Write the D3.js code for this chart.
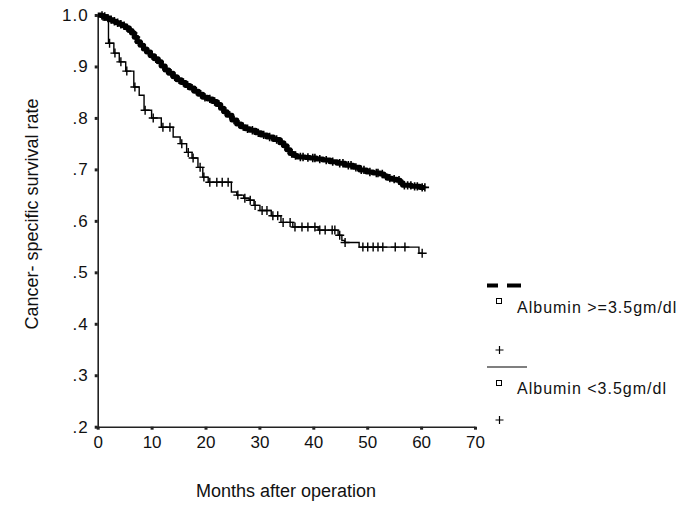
<!DOCTYPE html>
<html>
<head>
<meta charset="utf-8">
<script src="https://cdn.jsdelivr.net/npm/d3@7"></script>
<style>
  html, body { margin: 0; padding: 0; background: #fff; }
  svg { display: block; }
  text { font-family: "Liberation Sans", Arial, Helvetica, sans-serif; fill: #111; }
</style>
</head>
<body>
<svg id="chart" width="685" height="517"></svg>
<script>
// ---------- DATA ----------
const xTicks = [0, 10, 20, 30, 40, 50, 60, 70];
const yTicks = [1.0, 0.9, 0.8, 0.7, 0.6, 0.5, 0.4, 0.3, 0.2];
const yTickLabels = ["1.0", ".9", ".8", ".7", ".6", ".5", ".4", ".3", ".2"];
const seriesNames = ["Albumin >=3.5gm/dl", "Albumin <3.5gm/dl"];

// Albumin >= 3.5 : event times and survival after the event
const highTimes = [0.5,1.0,1.6,2.2,2.8,3.4,4.0,4.6,5.2,5.8,6.3,6.8,7.3,7.9,8.5,9.1,9.8,10.5,11.2,11.8,
  12.5,13.2,14.0,14.7,15.5,16.3,17.1,17.9,18.7,19.5,20.4,21.3,22.1,22.8,23.4,24.0,24.9,25.8,26.6,27.4,
  28.2,29.3,30.3,31.4,32.6,33.8,34.5,35.1,35.7,36.4,37.0,38.5,39.4,40.6,41.8,43.1,44.4,45.9,47.4,48.6,
  49.9,51.1,52.4,53.1,53.7,54.6,55.5,56.1,56.6,58.2,59.8];
const highSurv = [0.999,0.997,0.994,0.991,0.988,0.985,0.982,0.979,0.975,0.970,0.965,0.957,0.948,0.941,0.934,0.928,0.921,0.915,0.909,0.901,
  0.893,0.887,0.880,0.874,0.869,0.863,0.858,0.852,0.846,0.840,0.837,0.832,0.826,0.819,0.812,0.805,0.796,0.788,0.783,0.779,
  0.776,0.771,0.767,0.763,0.758,0.752,0.746,0.738,0.731,0.727,0.724,0.723,0.722,0.720,0.718,0.715,0.712,0.708,0.704,0.699,
  0.695,0.693,0.691,0.687,0.683,0.681,0.679,0.674,0.669,0.667,0.665];
const highCensored = [0.8,1.3,1.9,2.5,3.1,3.7,4.3,4.9,5.5,6.1,6.6,7.1,7.6,8.2,8.8,9.4,10.1,10.8,11.5,12.1,
  12.8,13.6,14.3,15.1,15.9,16.7,17.5,18.3,19.1,19.9,20.8,21.7,22.5,23.1,23.7,24.5,25.3,26.2,27.0,27.8,
  28.7,29.8,30.8,31.9,33.2,34.2,34.8,35.4,36.0,36.7,37.6,38.1,39.0,39.9,40.3,41.2,42.4,43.6,44.9,45.5,
  46.5,47.0,47.9,48.9,49.4,50.5,51.7,52.0,52.8,54.2,55.0,55.9,56.9,57.5,58.1,58.8,59.3,60.2,60.7];
const highEnd = 60.7;

// Albumin < 3.5 : event times and survival after the event
const lowTimes = [1.0,2.0,3.0,4.0,5.2,6.7,7.7,8.6,10.0,11.8,14.0,15.3,16.5,17.5,18.6,19.5,20.5,24.8,25.8,27.1,
  28.1,29.0,30.1,32.2,34.0,36.2,40.9,44.6,45.3,45.8,48.5,59.6];
const lowSurv = [0.990,0.945,0.926,0.909,0.891,0.860,0.844,0.815,0.800,0.782,0.763,0.750,0.733,0.722,0.704,0.685,0.675,0.656,0.650,0.644,
  0.640,0.630,0.620,0.610,0.597,0.588,0.582,0.572,0.562,0.558,0.549,0.537];
const lowCensored = [2.2,3.2,4.3,5.4,6.9,8.8,10.3,12.1,13.4,15.6,16.8,17.7,19.0,19.7,20.8,22.1,23.1,24.2,26.0,27.3,
  28.3,29.2,30.5,31.4,32.5,33.4,34.4,35.7,36.6,37.9,39.0,40.3,41.2,42.2,43.5,44.0,44.9,45.9,49.2,50.1,
  51.1,52.0,52.9,55.2,57.0,60.2];
const lowEnd = 60.2;

// ---------- DRAW ----------
const svg = d3.select("#chart");
const x = d3.scaleLinear().domain([0, 70]).range([97.7, 475]);
const y = d3.scaleLinear().domain([0.2, 1.0]).range([426.7, 15]);

function stepPoints(times, surv, end) {
  const pts = [[0, 1.0]];
  times.forEach((t, i) => pts.push([t, surv[i]]));
  pts.push([end, surv[surv.length - 1]]);
  return pts;
}
function survAt(times, surv, t) {
  let s = 1.0;
  times.forEach((tt, i) => { if (tt <= t) s = surv[i]; });
  return s;
}
const line = d3.line().x(d => x(d[0])).y(d => y(d[1])).curve(d3.curveStepAfter);

// axes
const xAxis = d3.axisBottom(x).tickValues(xTicks).tickFormat(d3.format("d")).tickSize(3).tickSizeOuter(0).tickPadding(6);
const gx = svg.append("g").attr("transform", `translate(0,${y(0.2)})`).call(xAxis);
gx.select(".domain").attr("stroke", "#222").attr("stroke-width", 1.6);
gx.selectAll(".tick line").attr("stroke", "#222").attr("stroke-width", 3);
gx.selectAll(".tick text").attr("font-size", 17).attr("fill", "#111")
  .style("font-family", "'Liberation Sans', Arial, sans-serif");

const yAxis = d3.axisLeft(y).tickValues(yTicks).tickFormat((d, i) => yTickLabels[i]).tickSize(3).tickSizeOuter(0).tickPadding(6);
const gy = svg.append("g").attr("transform", `translate(${x(0)},0)`).call(yAxis);
gy.select(".domain").attr("stroke", "#222").attr("stroke-width", 1.6);
gy.selectAll(".tick line").attr("stroke", "#222").attr("stroke-width", 3);
gy.selectAll(".tick text").attr("font-size", 17).attr("fill", "#111")
  .attr("letter-spacing", 1)
  .style("font-family", "'Liberation Sans', Arial, sans-serif");

// axis titles
svg.append("text").attr("x", 286).attr("y", 497).attr("text-anchor", "middle")
  .attr("font-size", 18).text("Months after operation");
svg.append("text").attr("transform", "translate(38,214) rotate(-90)").attr("text-anchor", "middle")
  .attr("font-size", 18).text("Cancer- specific survival rate");

// censor mark helper
function plus(g, cx, cy, r, w) {
  g.append("path").attr("d", `M${cx - r},${cy}H${cx + r}M${cx},${cy - r}V${cy + r}`)
    .attr("stroke", "#000").attr("stroke-width", w).attr("fill", "none");
}

// low albumin curve
const gLow = svg.append("g");
gLow.append("path").datum(stepPoints(lowTimes, lowSurv, lowEnd)).attr("d", line)
  .attr("fill", "none").attr("stroke", "#000").attr("stroke-width", 1.4);
lowCensored.forEach(t => plus(gLow, x(t), y(survAt(lowTimes, lowSurv, t)), 4.5, 1.4));

// high albumin curve
const gHigh = svg.append("g");
gHigh.append("path").datum(stepPoints(highTimes, highSurv, highEnd)).attr("d", line)
  .attr("fill", "none").attr("stroke", "#000").attr("stroke-width", 5).attr("stroke-linejoin", "round");
highCensored.forEach(t => plus(gHigh, x(t), y(survAt(highTimes, highSurv, t)), 4.2, 1.6));

// legend
const lg = svg.append("g");
lg.append("rect").attr("x", 487).attr("y", 283.5).attr("width", 11).attr("height", 4).attr("fill", "#000");
lg.append("rect").attr("x", 507).attr("y", 283.5).attr("width", 14).attr("height", 4).attr("fill", "#000");
lg.append("rect").attr("x", 496.5).attr("y", 298.5).attr("width", 5).attr("height", 5)
  .attr("fill", "none").attr("stroke", "#000").attr("stroke-width", 1);
lg.append("text").attr("x", 517).attr("y", 313).attr("font-size", 16).attr("letter-spacing", 1).text(seriesNames[0]);
plus(lg, 499.5, 350, 4, 1.2);
lg.append("line").attr("x1", 487).attr("x2", 527).attr("y1", 367).attr("y2", 367)
  .attr("stroke", "#000").attr("stroke-width", 1.2);
lg.append("rect").attr("x", 496.5).attr("y", 380.5).attr("width", 5).attr("height", 5)
  .attr("fill", "none").attr("stroke", "#000").attr("stroke-width", 1);
lg.append("text").attr("x", 517).attr("y", 394).attr("font-size", 16).attr("letter-spacing", 1).text(seriesNames[1]);
plus(lg, 499.5, 420, 4, 1.2);
</script>
</body>
</html>
